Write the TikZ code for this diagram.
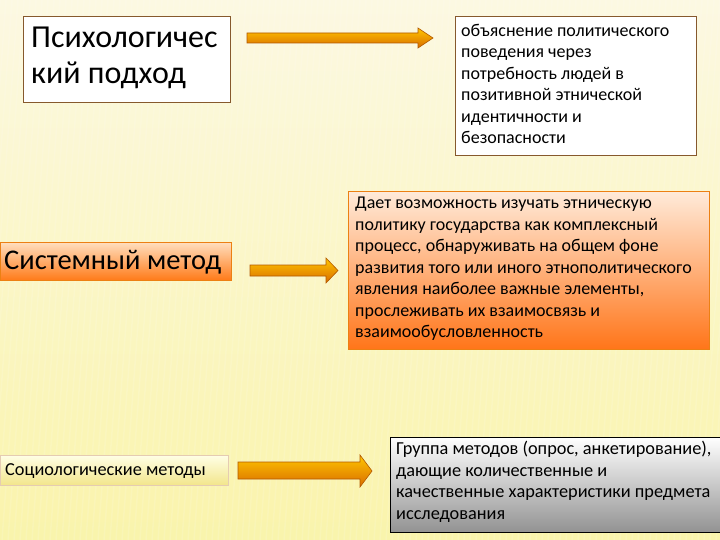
\documentclass[tikz,border=0pt]{standalone}
\usepackage{fontspec}
\setmainfont{Carlito}
\begin{document}
\begin{tikzpicture}[x=1pt,y=-1pt,
  box/.style={draw=brown!70!black,line width=1pt,inner sep=0pt},
  txt/.style={anchor=north west,align=left,inner sep=0pt},
  bigarrow/.style={draw=orange!70!black,line width=0.6pt,top color=orange!45!yellow,bottom color=orange!85!black}]
\useasboundingbox (0,0) rectangle (720,540);
\shade[top color=yellow!8!white!95!brown,bottom color=brown!25!yellow!35!white] (0,0) rectangle (720,540);
\foreach \i in {0,6,...,760} \draw[white,opacity=0.12,line width=1.5pt] (\i,0) -- (\i-40,540);
% boxes
\draw[box,fill=white] (23,17) rectangle (230,103);
\node[txt,font=\fontsize{32}{36}\selectfont] (a1) at (31,27) {Психологичес\\кий подход};
\draw[box,fill=white] (455,17) rectangle (696,156);
\node[txt,font=\fontsize{18}{21.5}\selectfont] (b1) at (461,24) {объяснение политического\\поведения через\\потребность людей в\\позитивной этнической\\идентичности и\\безопасности};
\draw[box,draw=orange!70!brown,top color=orange!25!white,bottom color=orange!85!red!90!white] (0,242) rectangle (231,280);
\node[txt,font=\fontsize{28.5}{30}\selectfont] (a2) at (4,250) {Системный метод};
\draw[box,draw=orange!70!brown,top color=red!10!orange!15!white,bottom color=orange!80!red!90!white] (348,192) rectangle (709,349);
\node[txt,font=\fontsize{18}{21.5}\selectfont] (b2) at (355,197) {Дает возможность изучать этническую\\политику государства как комплексный\\процесс, обнаруживать на общем фоне\\развития того или иного этнополитического\\явления наиболее важные элементы,\\прослеживать их взаимосвязь и\\взаимообусловленность};
\draw[box,draw=brown!40!white,top color=yellow!10!white,bottom color=brown!40!yellow!50!white] (0,455) rectangle (228,485);
\node[txt,font=\fontsize{18.3}{20}\selectfont] (a3) at (5,463) {Социологические методы};
\draw[box,draw=black,top color=white,bottom color=gray!85] (390,437) rectangle (720,532);
\node[txt,font=\fontsize{18.3}{21.5}\selectfont] (b3) at (396,441) {Группа методов (опрос, анкетирование),\\дающие количественные и\\качественные характеристики предмета\\исследования};
% arrows
\draw[bigarrow] (247,33) -- (418,33) -- (418,28) -- (433,38) -- (418,48) -- (418,43) -- (247,43) -- cycle;
\draw[bigarrow] (250,265) -- (326,265) -- (326,258) -- (338,270.5) -- (326,283) -- (326,276) -- (250,276) -- cycle;
\draw[bigarrow] (238,462) -- (360,462) -- (360,455) -- (372,471) -- (360,487) -- (360,479) -- (238,479) -- cycle;
\end{tikzpicture}
\end{document}
